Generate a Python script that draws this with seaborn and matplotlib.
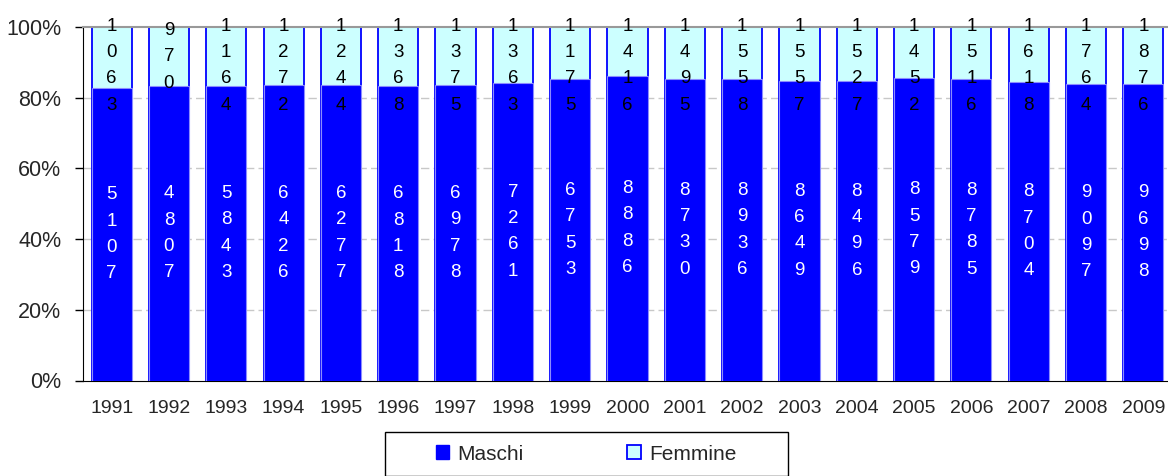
import matplotlib
matplotlib.use("Agg")
import matplotlib.pyplot as plt
from matplotlib.patches import Patch, Rectangle
import seaborn as sns
import pandas as pd

years = ["1991", "1992", "1993", "1994", "1995", "1996", "1997", "1998", "1999", "2000",
         "2001", "2002", "2003", "2004", "2005", "2006", "2007", "2008", "2009"]
maschi = [5107, 4807, 5843, 6426, 6277, 6818, 6978, 7261, 6753, 8886,
          8730, 8936, 8649, 8496, 8579, 8785, 8704, 9097, 9698]
femmine = [1063, 970, 1164, 1272, 1244, 1368, 1375, 1363, 1175, 1416,
           1495, 1558, 1557, 1527, 1452, 1516, 1618, 1764, 1876]

sns.set_style("white")
plt.rcParams["font.family"] = ["Liberation Sans", "DejaVu Sans"]

df = pd.DataFrame({"anno": years, "maschi": maschi, "femmine": femmine})
df["totale"] = df["maschi"] + df["femmine"]
df["pct_m"] = df["maschi"] / df["totale"] * 100
df["pct_tot"] = df["totale"] / df["totale"] * 100

fig = plt.figure(figsize=(11.68, 4.76), dpi=100)
ax = fig.add_axes([83 / 1168, 1 - 380.5 / 476, 1089 / 1168, 353.5 / 476])

# stacked 100% bars: total (femmine colour) underneath, maschi on top
sns.barplot(data=df, x="anno", y="pct_tot", color="#CCFFFF", edgecolor="#0000FF",
            linewidth=1.3, width=0.7, saturation=1, ax=ax, zorder=2)
n = len(years)
sns.barplot(data=df, x="anno", y="pct_m", color="#0000FF", edgecolor="#8C8CFF",
            linewidth=0.8, width=0.7, saturation=1, ax=ax, zorder=3)

# one stacked digit is ~27 px tall, the axes is 353.5 px for 100%
line_pct = 27 / 353.5 * 100
bars_m = ax.patches[n:]
for bm, m, f in zip(bars_m, maschi, femmine):
    cx = bm.get_x() + bm.get_width() / 2
    hm = bm.get_height()
    ax.text(cx, hm / 2, "\n".join(str(m)), ha="center", va="center", color="white",
            fontsize=13.5, linespacing=1.72, zorder=5)
    # label kept inside the chart area, like the spreadsheet does
    yc = min(hm + (100 - hm) / 2, 104.3 - len(str(f)) * line_pct / 2)
    ax.text(cx, yc, "\n".join(str(f)), ha="center", va="center",
            color="black", fontsize=13.5, linespacing=1.72, zorder=5, clip_on=False)

ax.set_ylim(0, 100)
ax.set_xlim(-0.5, n - 0.5)
ax.set_yticks(range(0, 101, 20))
ax.set_yticklabels([f"{v}%" for v in range(0, 101, 20)], fontsize=15.5)
ax.set_xticks(range(n))
ax.set_xticklabels(years, fontsize=14)
ax.set_xticks([i - 0.5 for i in range(n + 1)], minor=True)
ax.tick_params(axis="x", which="major", length=0, pad=14)
ax.tick_params(axis="x", which="minor", length=5, width=1, color="black", direction="out")
ax.tick_params(axis="y", length=6, width=1, color="black", direction="out", pad=9.5, left=True)
ax.set_xlabel("")
ax.set_ylabel("")

for y in [20, 40, 60, 80]:
    ax.axhline(y, color="#C8C8C8", lw=1, ls=(0, (6, 3)), zorder=1)

ax.spines["left"].set_color("black")
ax.spines["bottom"].set_color("black")
ax.spines["top"].set_color("#999999")
ax.spines["top"].set_linewidth(1.5)
ax.spines["right"].set_visible(False)

# legend box below
fig.patches.append(Rectangle((385 / 1168, 0), 403 / 1168, 1 - 432 / 476,
                             transform=fig.transFigure, facecolor="white",
                             edgecolor="black", lw=1))
handles = [Patch(facecolor="#0000FF", edgecolor="#0000FF", label="Maschi"),
           Patch(facecolor="#CCFFFF", edgecolor="#0000FF", lw=1.3, label="Femmine")]
fig.legend(handles=handles, loc="center", bbox_to_anchor=(586 / 1168, 1 - 454 / 476),
           ncol=2, frameon=False, fontsize=15, handlelength=0.65, handleheight=0.65,
           handletextpad=0.4, columnspacing=4.95)

fig.savefig("out.png", dpi=100)
